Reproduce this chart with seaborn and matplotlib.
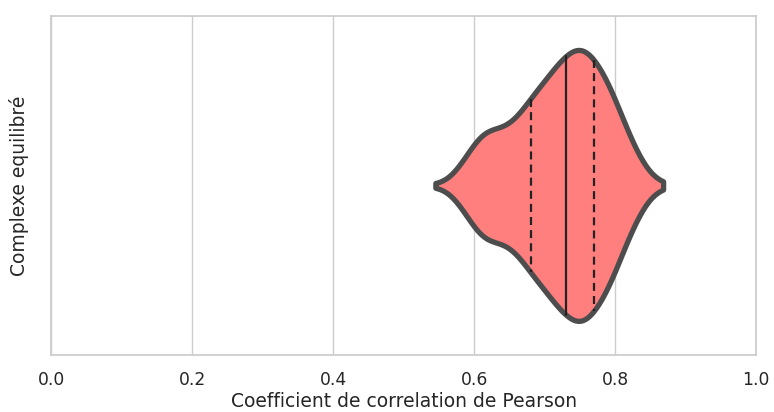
import numpy as np
import pandas as pd
import matplotlib
matplotlib.use("Agg")
import matplotlib.pyplot as plt
import seaborn as sns

# Pearson correlation coefficients, binned (value -> number of observations),
# counts read off the width of the violin
r_values = [0.545, 0.55, 0.56, 0.57, 0.58, 0.59, 0.60, 0.61, 0.62, 0.63, 0.64,
            0.65, 0.66, 0.67, 0.68, 0.69, 0.70, 0.71, 0.72, 0.73, 0.74, 0.75,
            0.76, 0.77, 0.78, 0.79, 0.80, 0.81, 0.82, 0.83, 0.84, 0.85, 0.86, 0.868]
r_counts = [1, 0, 1, 3, 6, 9, 13, 16, 17, 17, 17,
            18, 20, 23, 26, 29, 31, 34, 37, 39, 41, 42,
            41, 38, 35, 31, 26, 20, 15, 10, 6, 3, 1, 1]
x_ticks = [0.0, 0.2, 0.4, 0.6, 0.8, 1.0]

df = pd.DataFrame({"r": np.repeat(r_values, r_counts)})

sns.set_theme(style="whitegrid")
plt.rcParams['font.family'] = ['DejaVu Sans']

fig, ax = plt.subplots(figsize=(7.74, 4.12), dpi=100)
fig.subplots_adjust(left=0.066, right=0.977, top=0.961, bottom=0.139)

sns.violinplot(data=df, x="r", ax=ax, cut=0, bw_adjust=0.8, inner="quart",
               color="#ff7f7f", saturation=1, linecolor="#4d4d4d", linewidth=3.8,
               inner_kws={"linewidth": 1.6, "color": "#222222"})

# rounded outline at the tips
for coll in ax.collections:
    coll.set_joinstyle("round")
    coll.set_capstyle("round")

# quartiles dashed, median solid
for i, line in enumerate(ax.lines):
    if i == 1:
        line.set_linestyle("-")
    else:
        line.set_dashes([3.6, 2.3])

ax.set_xlim(0, 1)
ax.set_xticks(x_ticks)
ax.set_yticks([])
ax.tick_params(axis='x', labelsize=12.3, pad=6)
ax.set_xlabel("Coefficient de correlation de Pearson", fontsize=13.5, labelpad=2)
ax.set_ylabel("Complexe equilibré", fontsize=13.5, labelpad=16)

fig.savefig("out.png", dpi=100)
